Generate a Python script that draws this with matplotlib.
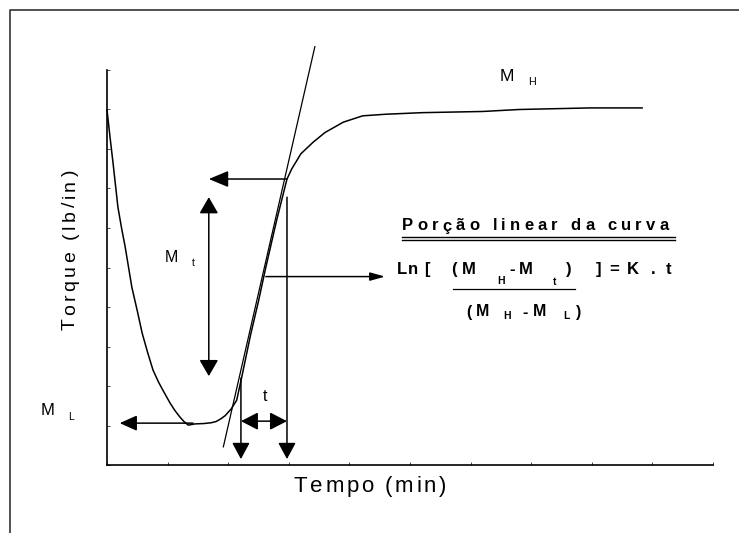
import matplotlib.pyplot as plt
from matplotlib.patches import FancyArrowPatch, ArrowStyle
from matplotlib.lines import Line2D
from matplotlib.font_manager import FontProperties, findfont, get_font

plt.rcParams['font.family'] = ['Liberation Sans', 'DejaVu Sans']

# rheometer curve (axes are unitless, 0..10 both ways)
tempo = [0.00, 0.05, 0.10, 0.18, 0.24, 0.30, 0.41, 0.50, 0.58, 0.67, 0.76, 0.85,
         0.92, 1.04, 1.12, 1.20, 1.27, 1.34, 1.45, 1.60, 1.72, 1.80, 1.88, 1.95,
         2.05, 2.14, 2.22, 2.37, 2.50, 2.62, 2.80, 2.97, 3.05, 3.20, 3.40, 3.60,
         3.90, 4.22, 4.60, 5.20, 6.20, 6.80, 7.97, 8.83]
torque = [8.99, 8.30, 7.64, 6.53, 6.00, 5.52, 4.50, 3.90, 3.34, 2.85, 2.40, 2.10,
          1.90, 1.57, 1.38, 1.22, 1.10, 1.01, 1.04, 1.05, 1.07, 1.10, 1.17, 1.25,
          1.42, 1.64, 2.20, 3.30, 4.15, 5.00, 6.20, 7.24, 7.50, 7.88, 8.17, 8.42,
          8.68, 8.84, 8.88, 8.92, 8.95, 9.00, 9.04, 9.04]

# tangent to the linear part of the curve
tan_x = [1.92, 3.43]
tan_y = [0.46, 10.59]

# reference levels and times
M_L = 1.06
M_t = 7.24
Mt_top, Mt_low = 6.78, 2.25
x_Mt = 1.68
t0, t1 = 2.21, 2.97
y_t = 1.11
y_base = 0.15
y_lin = 4.77

W, H = 739, 533
fig = plt.figure(figsize=(W / 100, H / 100), dpi=100)
ax = fig.add_axes([107 / W, 68 / H, 606 / W, 395 / H])
ax.set_xlim(0, 10)
ax.set_ylim(0, 10)
ax.set_xticks(range(11))
ax.set_yticks(range(11))
ax.tick_params(direction='in', length=2, width=0.5, labelbottom=False, labelleft=False)
for s in ['top', 'right']:
    ax.spines[s].set_visible(False)
for s in ['left', 'bottom']:
    ax.spines[s].set_linewidth(1.2)

ax.plot(tempo, torque, color='k', lw=1.1, clip_on=False)
ax.plot(tan_x, tan_y, color='k', lw=0.9, clip_on=False)


def arrow(p0, p1, hl, hw, both=False):
    st = ArrowStyle('<|-|>' if both else '-|>', head_length=hl, head_width=hw)
    ax.add_patch(FancyArrowPatch(p0, p1, arrowstyle=st, mutation_scale=1, shrinkA=0, shrinkB=0,
                                 color='k', lw=1.1, clip_on=False))


arrow((t1, M_t), (x_Mt, M_t), 12, 5)
arrow((x_Mt, Mt_top), (x_Mt, Mt_low), 10, 5.8, both=True)
arrow((2.62, y_lin), (4.59, y_lin), 9, 2.5)
arrow((1.42, M_L), (0.21, M_L), 10.5, 4.7)
arrow((t0, 2.2), (t0, y_base), 10, 5.4)
arrow((t1, Mt_top), (t1, y_base), 10, 5.4)
arrow((t0, y_t), (t1, y_t), 10.5, 5.4, both=True)


def txt(x, y, s, size, weight='normal'):
    fig.text(x / W, 1 - y / H, s, fontsize=size, fontweight=weight, ha='left', va='baseline')


def spaced(x, y, s, size, track, weight='normal', vertical=False):
    # text with extra letter spacing, placed char by char (pixels)
    fp = FontProperties(family='Liberation Sans', size=size, weight=weight)
    font = get_font(findfont(fp))
    pos = 0
    for ch in s:
        if vertical:
            fig.text(x / W, 1 - (y - pos) / H, ch, fontproperties=fp, rotation=90,
                     rotation_mode='anchor', ha='left', va='baseline')
        else:
            fig.text((x + pos) / W, 1 - y / H, ch, fontproperties=fp, ha='left', va='baseline')
        font.set_size(size, 100)
        pos += font.load_char(ord(ch)).linearHoriAdvance / 65536 + track


# outer frame
fig.add_artist(Line2D([10 / W, 10 / W, 1], [0, 1 - 10 / H, 1 - 10 / H],
                      transform=fig.transFigure, color='#333333', lw=1.2))

spaced(75, 330, 'Torque (lb/in)', 14, 3.4, vertical=True)
spaced(294, 492, 'Tempo (min)', 16, 2.6)

txt(500, 81, 'M', 12.5)
txt(528, 85, 'H', 7.7)
txt(165, 262, 'M', 11.5)
txt(192, 266, 't', 7.5)
txt(41, 415, 'M', 12)
txt(68, 420, 'L', 7.5)
txt(263, 401, 't', 11.5)

spaced(402, 230.5, 'Porção linear da curva', 12, 4.2, weight='bold')
for yy in [237.3, 240.3]:
    fig.add_artist(Line2D([402 / W, 675 / W], [1 - yy / H, 1 - yy / H],
                          transform=fig.transFigure, color='k', lw=1.0))

for s, x in [('Ln', 397), ('[', 424), ('(', 451), ('M', 462), ('-', 509), ('M', 519),
             (')', 566), (']', 596), ('=', 609), ('K', 627), ('.', 651), ('t', 666)]:
    spaced(x, 274, s, 12, 1.0, weight='bold')
txt(497, 284, 'H', 7.5, 'bold')
txt(553, 285, 't', 7.5, 'bold')

fig.add_artist(Line2D([453 / W, 575 / W], [1 - 289 / H, 1 - 289 / H],
                      transform=fig.transFigure, color='k', lw=0.9))

for s, x in [('(', 466), ('M', 476), ('-', 522), ('M', 533), (')', 576)]:
    txt(x, 316.5, s, 11.5, 'bold')
txt(503, 319, 'H', 7.5, 'bold')
txt(563, 319, 'L', 7.5, 'bold')

fig.savefig('out.png', dpi=100)
